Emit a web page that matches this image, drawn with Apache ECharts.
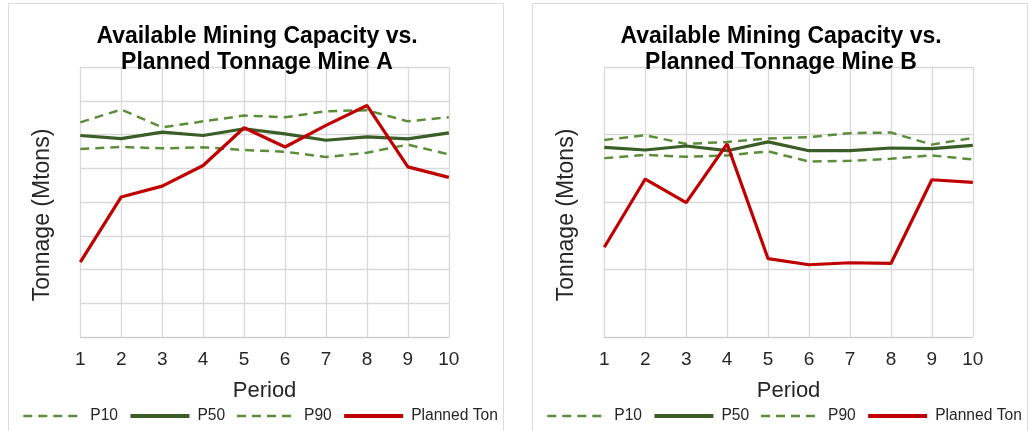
<!DOCTYPE html>
<html>
<head>
<meta charset="utf-8">
<script src="https://cdn.jsdelivr.net/npm/echarts@6/dist/echarts.min.js"></script>
<style>
  html, body { margin: 0; padding: 0; background: #ffffff; }
  #chart { width: 1029px; height: 431px; }
</style>
</head>
<body>
<div id="chart"></div>
<script>
// Periods on the x axis
const periods = ['1', '2', '3', '4', '5', '6', '7', '8', '9', '10'];

// Mine A capacity bands and planned tonnage (Mtons)
const mineAP10 = [63.6, 67.4, 62.1, 63.9, 65.6, 65.1, 66.9, 67.2, 63.9, 65.1];
const mineAP50 = [59.7, 58.8, 60.7, 59.7, 61.7, 60.2, 58.3, 59.3, 58.7, 60.5];
const mineAP90 = [55.7, 56.3, 55.9, 56.2, 55.4, 54.9, 53.3, 54.6, 57.0, 54.1];
const mineAPlanned = [22.2, 41.5, 44.7, 50.8, 62.0, 56.3, 62.7, 68.6, 50.4, 47.3];

// Mine B capacity bands and planned tonnage (Mtons)
const mineBP10 = [29.2, 29.9, 28.6, 28.9, 29.4, 29.6, 30.2, 30.3, 28.5, 29.5];
const mineBP50 = [28.1, 27.7, 28.3, 27.6, 28.9, 27.6, 27.6, 28.0, 27.9, 28.4];
const mineBP90 = [26.5, 27.0, 26.7, 26.9, 27.5, 26.0, 26.1, 26.4, 26.9, 26.3];
const mineBPlanned = [13.3, 23.4, 19.9, 28.6, 11.6, 10.7, 11.0, 10.9, 23.3, 22.9];

const seriesNames = ['P10', 'P50', 'P90', 'Planned Ton'];
const titles = [
  'Available Mining Capacity vs.\nPlanned Tonnage Mine A',
  'Available Mining Capacity vs.\nPlanned Tonnage Mine B'
];

const FONT = "'Liberation Sans', Arial, sans-serif";
const TEXT = '#262626';
const GRID_LINE = '#d9d9d9';
const DASH_GREEN = '#5b8d3b';
const DARK_GREEN = '#3b5d27';
const RED = '#c00000';

const panels = [
  { left: 8.5, plotLeft: 80.3, yMax: 80, data: [mineAP10, mineAP50, mineAP90, mineAPlanned] },
  { left: 532.5, plotLeft: 604.3, yMax: 40, data: [mineBP10, mineBP50, mineBP90, mineBPlanned] }
];
const PLOT_W = 368.5, PLOT_TOP = 67, PLOT_H = 270;

const styles = {
  dash: { color: DASH_GREEN, width: 2.5, type: [9, 6] },
  solid: { color: DARK_GREEN, width: 3.2, type: 'solid' },
  red: { color: RED, width: 3.2, type: 'solid' }
};
const kinds = ['dash', 'solid', 'dash', 'red'];

function lineSeries(name, values, idx, kind) {
  const ls = styles[kind];
  return {
    name: name,
    type: 'line',
    xAxisIndex: idx,
    yAxisIndex: idx,
    data: values,
    symbol: 'none',
    showSymbol: false,
    smooth: false,
    itemStyle: { color: ls.color },
    lineStyle: ls,
    emphasis: { disabled: true },
    animation: false
  };
}

const grid = [], xAxis = [], yAxis = [], series = [], legend = [], title = [], graphic = [];

panels.forEach((p, i) => {
  // Panel frame
  graphic.push({
    type: 'rect', silent: true, z: -10,
    shape: { x: p.left, y: 3.5, width: 495, height: 460 },
    style: { fill: '#ffffff', stroke: '#dcdcdc', lineWidth: 1 }
  });
  // Y axis title
  graphic.push({
    type: 'text', silent: true,
    x: p.plotLeft - 37.8, y: 215, rotation: Math.PI / 2,
    style: {
      text: 'Tonnage (Mtons)', font: '23px ' + FONT, fill: TEXT,
      align: 'center', verticalAlign: 'middle'
    }
  });

  title.push({
    text: titles[i],
    left: p.left + 248.5,
    top: 24,
    textAlign: 'center',
    padding: 0,
    textStyle: { fontFamily: FONT, fontWeight: 'bold', fontSize: 23, lineHeight: 26, color: '#000000' }
  });

  grid.push({ left: p.plotLeft, top: PLOT_TOP, width: PLOT_W, height: PLOT_H, containLabel: false });

  xAxis.push({
    type: 'category', gridIndex: i, data: periods, boundaryGap: false,
    name: 'Period', nameLocation: 'middle', nameGap: 43,
    nameTextStyle: { fontFamily: FONT, fontSize: 22, color: TEXT },
    axisLine: { show: true, lineStyle: { color: '#cccccc', width: 1 } },
    axisTick: { show: false },
    axisLabel: { fontFamily: FONT, fontSize: 19, color: TEXT, margin: 13 },
    splitLine: { show: true, lineStyle: { color: GRID_LINE, width: 1.3 } }
  });

  yAxis.push({
    type: 'value', gridIndex: i, min: 0, max: p.yMax, interval: 10,
    axisLine: { show: false }, axisTick: { show: false }, axisLabel: { show: false },
    splitLine: { show: true, lineStyle: { color: GRID_LINE, width: 1.3 } }
  });

  seriesNames.forEach((n, k) => series.push(lineSeries(n, p.data[k], i, kinds[k])));

  legend.push({
    data: seriesNames.map((n, k) => ({
      name: n,
      lineStyle: {
        color: styles[kinds[k]].color,
        width: kinds[k] === 'dash' ? 2.6 : 3.8,
        type: styles[kinds[k]].type
      }
    })),
    left: p.left + 13.5,
    top: 408,
    width: 560,
    orient: 'horizontal',
    itemWidth: 59,
    itemHeight: 14,
    itemGap: 10.5,
    padding: 0,
    selectedMode: false,
    itemStyle: { opacity: 0 },
    textStyle: { fontFamily: FONT, fontSize: 15.6, color: TEXT, padding: [0, 0, 0, 3] }
  });
});

const chart = echarts.init(document.getElementById('chart'), null, { renderer: 'canvas' });
chart.setOption({
  backgroundColor: '#ffffff',
  animation: false,
  title: title,
  grid: grid,
  xAxis: xAxis,
  yAxis: yAxis,
  legend: legend,
  series: series,
  graphic: graphic
});
</script>
</body>
</html>
